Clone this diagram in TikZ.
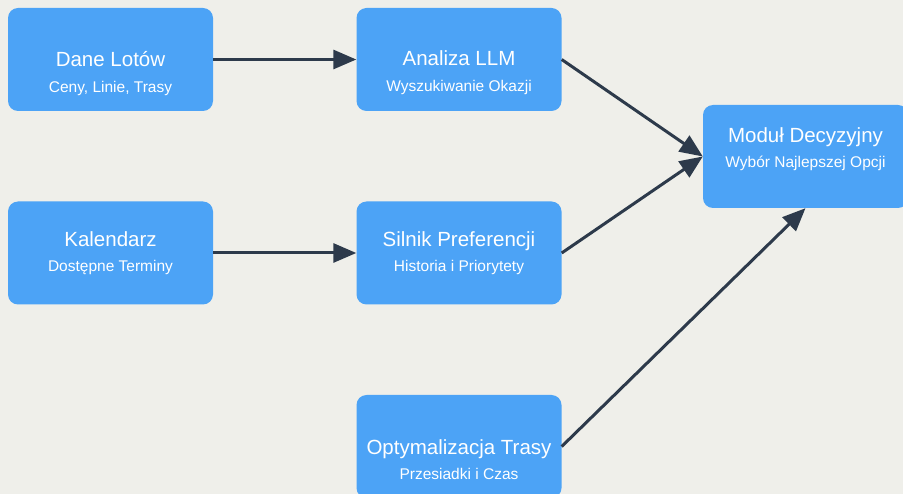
\documentclass[tikz,border=0pt]{standalone}
\usepackage{fontspec}
\setmainfont{Liberation Sans}
\usetikzlibrary{arrows.meta}
\definecolor{bgc}{HTML}{EFEFEA}
\definecolor{boxc}{HTML}{4CA3F6}
\definecolor{arrc}{HTML}{2D3A4B}
\tikzset{
  box/.style={fill=boxc, rounded corners=10pt, minimum width=205pt, minimum height=103pt, inner sep=0pt, draw=none},
  ttl/.style={anchor=base, text=white, font=\fontsize{20.5}{24}\selectfont, inner sep=0pt},
  sub/.style={anchor=base, text=white, font=\fontsize{15.5}{18}\selectfont, inner sep=0pt},
  conn/.style={draw=arrc, line width=3pt, -{Triangle[length=23pt,width=19pt]}, shorten >=0pt}
}
\begin{document}
\begin{tikzpicture}[x=1pt,y=-1pt]
\useasboundingbox[fill=bgc] (0,0) rectangle (903,494);
\node[box] (dane) at (110.5,59.5) {};
\node[box] (analiza) at (459,59.5) {};
\node[box] (kal) at (110.5,253) {};
\node[box] (silnik) at (459,253) {};
\node[box] (opt) at (459,446.5) {};
\node[box] (modul) at (805.5,156.5) {};
\node[ttl] (t1) at (110.5,67) {Dane Lotów};
\node[sub] (s1) at (110.5,93) {Ceny, Linie, Trasy};
\node[ttl] (t2) at (459,66) {Analiza LLM};
\node[sub] (s2) at (459,92) {Wyszukiwanie Okazji};
\node[ttl] (t3) at (110.5,247) {Kalendarz};
\node[sub] (s3) at (110.5,272) {Dostępne Terminy};
\node[ttl] (t4) at (459,247) {Silnik Preferencji};
\node[sub] (s4) at (459,272) {Historia i Priorytety};
\node[ttl] (t5) at (459,454) {Optymalizacja Trasy};
\node[sub] (s5) at (459,479) {Przesiadki i Czas};
\node[ttl] (t6) at (805.5,143) {Moduł Decyzyjny};
\node[sub] (s6) at (805.5,168) {Wybór Najlepszej Opcji};
\draw[conn] (dane.east) -- (analiza.west);
\draw[conn] (kal.east) -- (silnik.west);
\draw[conn] (analiza.east) -- (modul.west);
\draw[conn] (silnik.east) -- (modul.west);
\draw[conn] (opt.east) -- (modul.south);
\end{tikzpicture}
\end{document}
